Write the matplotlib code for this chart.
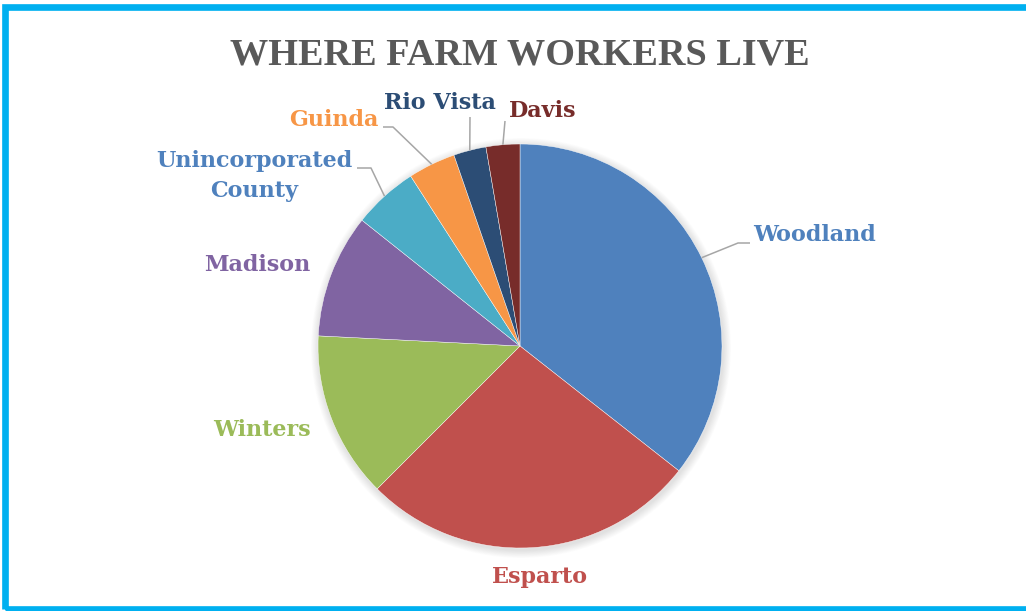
import numpy as np
import matplotlib
matplotlib.use("Agg")
import matplotlib.pyplot as plt
from matplotlib.patches import Circle, Rectangle

# Share of farm workers by place of residence (percent)
places = ["Woodland", "Esparto", "Winters", "Madison",
          "Unincorporated\nCounty", "Guinda", "Rio Vista", "Davis"]
shares = [35.6, 26.9, 13.3, 9.9, 5.2, 3.8, 2.6, 2.7]
slice_colors = ["#4F81BD", "#C0504D", "#9BBB59", "#8064A2",
                "#4BACC6", "#F79646", "#2C4D75", "#772C2A"]
label_colors = ["#4F81BD", "#C0504D", "#9BBB59", "#8064A2",
                "#4F81BD", "#F79646", "#2C4D75", "#772C2A"]

W, H = 1026, 611
fig = plt.figure(figsize=(W / 100, H / 100), dpi=100)
ax = fig.add_axes([0, 0, 1, 1])

cx, cy, R = 520, H - 346, 202

# soft shadow around the pie
for i in range(10, 0, -1):
    ax.add_patch(Circle((cx + 1, cy - 2), R + i * 0.8, facecolor="black",
                        edgecolor="none", alpha=0.012, zorder=1))

wedges, _ = ax.pie(shares, colors=slice_colors, startangle=90,
                   counterclock=False, center=(cx, cy), radius=R,
                   frame=True,
                   wedgeprops=dict(edgecolor="white", linewidth=0.3, zorder=2))

ax.set_xlim(0, W)
ax.set_ylim(0, H)
ax.set_aspect("equal")
ax.axis("off")

serif = "DejaVu Serif"

# label placement: (x, y in pixels from top, horizontal alignment, leader path)
layout = {
    "Woodland": (753, 235, "left", [(738, 243), (750, 243)]),
    "Esparto": (540, 577, "center", None),
    "Winters": (311, 430, "right", None),
    "Madison": (310, 265, "right", None),
    "Unincorporated\nCounty": (254, 176, "center", [(371, 168), (357, 168)]),
    "Guinda": (378, 120, "right", [(393, 127), (383, 127)]),
    "Rio Vista": (440, 103, "center", [(470, 117)]),
    "Davis": (543, 111, "center", [(505, 121)]),
}

for w, name, col in zip(wedges, places, label_colors):
    x, y, ha, path = layout[name]
    ax.text(x, H - y, name, ha=ha, va="center", color=col,
            fontsize=16, fontweight="bold", family=serif,
            linespacing=1.45, zorder=5)
    if path:
        mid = np.deg2rad((w.theta1 + w.theta2) / 2)
        sx, sy = cx + R * np.cos(mid), cy + R * np.sin(mid)
        xs = [sx] + [p[0] for p in path]
        ys = [sy] + [H - p[1] for p in path]
        ax.plot(xs, ys, color="#A6A6A6", linewidth=1.1, zorder=4,
                solid_capstyle="butt")

ax.text(520, H - 55, "WHERE FARM WORKERS LIVE", ha="center", va="center",
        color="#595959", fontsize=27.5, fontweight="bold",
        family="Liberation Serif")

# frame around the chart
ax.add_patch(Rectangle((4.5, 2.5), W + 20, H - 9.5, fill=False,
                       edgecolor="#00B0F0", linewidth=4.8, zorder=6,
                       clip_on=False))

fig.savefig("out.png", dpi=100, facecolor="white")
